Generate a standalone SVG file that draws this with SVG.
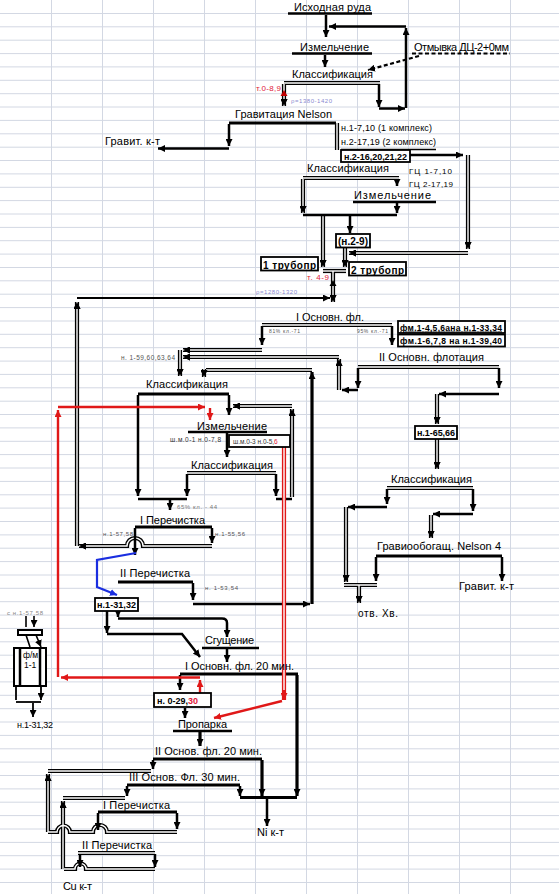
<svg xmlns="http://www.w3.org/2000/svg" xmlns:xlink="http://www.w3.org/1999/xlink" width="559" height="894" viewBox="0 0 559 894">
<style>
text{font-family:"Liberation Sans",Arial,sans-serif;fill:#000}
.t{font-size:11px}
.s9{font-size:9px}
.s8{font-size:8px}
.s6{font-size:6px;fill:#555}
.b{font-weight:bold}
.red{fill:#e0203a}
.pur{font-size:6px;fill:#8a8ad0}
.th{fill:none;stroke:#000;stroke-width:2.5}
.th3{fill:none;stroke:#000;stroke-width:3.2}
.dbo{fill:none;stroke:#000;stroke-width:4.2}
.dbi{fill:none;stroke:#fff;stroke-width:1.4}
.rd{fill:none;stroke:#e01818;stroke-width:2.4}
.rdo{fill:none;stroke:#e01818;stroke-width:4.2}
.bl{fill:none;stroke:#1a2ee0;stroke-width:2.2}
.ds{fill:none;stroke:#000;stroke-width:2.2;stroke-dasharray:4 2.5}
.box{fill:#fff;stroke:#000;stroke-width:1.8}
.grid{stroke:#d3d8e3;stroke-width:1;fill:none}
</style>
<defs>
<marker id="m" viewBox="0 0 10 10" refX="10" refY="5" markerWidth="7" markerHeight="7" markerUnits="userSpaceOnUse" orient="auto"><path d="M0,0 L10,5 L0,10 z" fill="#000"/></marker>
<marker id="mr" viewBox="0 0 10 10" refX="10" refY="5" markerWidth="7" markerHeight="7" markerUnits="userSpaceOnUse" orient="auto"><path d="M0,0 L10,5 L0,10 z" fill="#e01818"/></marker>
<marker id="mb" viewBox="0 0 10 10" refX="10" refY="5" markerWidth="7" markerHeight="7" markerUnits="userSpaceOnUse" orient="auto"><path d="M0,0 L10,5 L0,10 z" fill="#1a2ee0"/></marker>
<g id="dbl">
<path d="M284,83 H380"/>
<path d="M284,84 V106" marker-end="url(#m)"/>
<path d="M337,123 V150"/>
<path d="M468,155 V249" marker-end="url(#m)"/>
<path d="M468,253 H349" marker-end="url(#m)"/>
<path d="M303,178 H399"/>
<path d="M303,179 V213" marker-end="url(#m)"/>
<path d="M323,216 V267" marker-end="url(#m)"/>
<path d="M345,248 V267" marker-end="url(#m)"/>
<path d="M323,271 H346"/>
<path d="M333,271 V302" marker-end="url(#m)"/>
<path d="M77,546 V302" marker-end="url(#m)"/>
<path d="M262,325 H392"/>
<path d="M262,350 H183" marker-end="url(#m)"/>
<path d="M339,390 V359" marker-end="url(#m)"/>
<path d="M339,357 H183" marker-end="url(#m)"/>
<path d="M180,350 V376" marker-end="url(#m)"/>
<path d="M358,367 H499"/>
<path d="M437,394 V424" marker-end="url(#m)"/>
<path d="M437,439 V469" marker-end="url(#m)"/>
<path d="M312,370 H206"/>
<path d="M204,369 V377" marker-end="url(#m)"/>
<path d="M292,497 V409" marker-end="url(#m)"/>
<path d="M292,406 H233" marker-end="url(#m)"/>
<path d="M187,473 H276"/>
<path d="M387,488 H473"/>
<path d="M346,507 V582" marker-end="url(#m)"/>
<path d="M431,515 V538" marker-end="url(#m)"/>
<path d="M344,585 H377"/>
<path d="M359,585 V603" marker-end="url(#m)"/>
<path d="M212,546 H143 A8,8 0 0 0 127,546 H79" marker-end="url(#m)"/>
<path d="M48,832 V774" marker-end="url(#m)"/>
<path d="M48,771 H151"/>
<path d="M63,869 V801" marker-end="url(#m)"/>
<path d="M63,798 H125"/>
<path d="M177,832 H107 A7,7 0 0 0 93,832 H70 A6.5,6.5 0 0 0 57,832 H48"/>
<path d="M155,869 H86 A5.5,5.5 0 0 0 75,869 H64"/>
<path d="M78,853 H155"/>
</g>
</defs>

<g id="grid" class="grid">
<path d="M51.5,0V894M102.5,0V894M153.5,0V894M204.5,0V894M255.5,0V894M306.5,0V894M357.5,0V894M408.5,0V894M459.5,0V894M510.5,0V894"/>
<path d="M0,13.5H559M0,26.8H559M0,40.2H559M0,53.6H559M0,66.9H559M0,80.3H559M0,93.7H559M0,107H559M0,120.4H559M0,133.8H559M0,147.2H559M0,160.5H559M0,173.9H559M0,187.3H559M0,200.6H559M0,214H559M0,227.4H559M0,240.7H559M0,254.1H559M0,267.5H559M0,280.8H559M0,294.2H559M0,307.6H559M0,321H559M0,334.3H559M0,347.7H559M0,361.1H559M0,374.4H559M0,387.8H559M0,401.2H559M0,414.5H559M0,427.9H559M0,441.3H559M0,454.6H559M0,468H559M0,481.4H559M0,494.8H559M0,508.1H559M0,521.5H559M0,534.9H559M0,548.2H559M0,561.6H559M0,575H559M0,588.3H559M0,601.7H559M0,615.1H559M0,628.4H559M0,641.8H559M0,655.2H559M0,668.6H559M0,681.9H559M0,695.3H559M0,708.7H559M0,722H559M0,735.4H559M0,748.8H559M0,762.1H559M0,775.5H559M0,788.9H559M0,802.2H559M0,815.6H559M0,829H559M0,842.4H559M0,855.7H559M0,869.1H559M0,882.5H559"/>
</g>

<g id="connectors">
<use xlink:href="#dbl" class="dbo"/>
<use xlink:href="#dbl" class="dbi"/>
<g class="th">
<path d="M288,13.5 H372"/>
<path d="M292,53.5 H372"/>
<path d="M326,15 V37" marker-end="url(#m)"/>
<path d="M325,55 V67" marker-end="url(#m)"/>
<path d="M379,84 V107" marker-end="url(#m)"/>
<path d="M379,108.5 H405" marker-end="url(#m)"/>
<path d="M406,108 V28" marker-end="url(#m)"/>
<path d="M406,26.5 H329" marker-end="url(#m)"/>
<path d="M229,124 V146" marker-end="url(#m)"/>
<path d="M229,148.5 H158" marker-end="url(#m)"/>
<path d="M341,149.5 H436" style="stroke-width:1.5"/>
<path d="M410,155 H463" marker-end="url(#m)"/>
<path d="M397,179 V186" marker-end="url(#m)"/>
<path d="M353,202 H436"/>
<path d="M397,203 V213" marker-end="url(#m)"/>
<path d="M303,215 H397"/>
<path d="M350,216 V233" marker-end="url(#m)"/>
<path d="M77,298 H330" style="stroke-width:2" marker-end="url(#m)"/>
<path d="M392,326 V345" marker-end="url(#m)"/>
<path d="M262,326 V345" marker-end="url(#m)"/>
<path d="M358,368 V388" marker-end="url(#m)"/>
<path d="M358,390 H342" marker-end="url(#m)"/>
<path d="M499,368 V388" marker-end="url(#m)"/>
<path d="M499,394 H439" marker-end="url(#m)"/>
<path d="M138,395 V496" marker-end="url(#m)"/>
<path d="M229,395 V415" marker-end="url(#m)"/>
<path d="M188,432 H267"/>
<path d="M227,433 V457" marker-end="url(#m)"/>
<path d="M187,474 V496" marker-end="url(#m)"/>
<path d="M276,474 V496" marker-end="url(#m)"/>
<path d="M276,499 H292"/>
<path d="M138,499 H187"/>
<path d="M170,500 V510" marker-end="url(#m)"/>
<path d="M387,489 V504" marker-end="url(#m)"/>
<path d="M387,507 H348" marker-end="url(#m)"/>
<path d="M473,489 V511" marker-end="url(#m)"/>
<path d="M473,514 H433" marker-end="url(#m)"/>
<path d="M212,528 V543" marker-end="url(#m)"/>
<path d="M135,528 V555" marker-end="url(#m)"/>
<path d="M376,557 V581" marker-end="url(#m)"/>
<path d="M502,557 V581" marker-end="url(#m)"/>
<path d="M193,583 V600" marker-end="url(#m)"/>
<path d="M193,604 H310" marker-end="url(#m)"/>
<path d="M118,611 V617" marker-end="url(#m)"/>
<path d="M118,618.5 H222 Q227,618.5 227,623 V637" marker-end="url(#m)"/>
<path d="M107,611 V633" marker-end="url(#m)"/>
<path d="M107,634 H182 L200,657" marker-end="url(#m)"/>
<path d="M202,648 H259"/>
<path d="M227,649 V662" marker-end="url(#m)"/>
<path d="M180,675 V690" marker-end="url(#m)"/>
<path d="M185,708 V718" marker-end="url(#m)"/>
<path d="M173,731 H232"/>
<path d="M153,760 V769" marker-end="url(#m)"/>
<path d="M127,786 V796" marker-end="url(#m)"/>
<path d="M240,786 V796" marker-end="url(#m)"/>
<path d="M267,798 V826" marker-end="url(#m)"/>
<path d="M177,813 V829" marker-end="url(#m)"/>
<path d="M98,813 V830" marker-end="url(#m)"/>
<path d="M80,854 V867" marker-end="url(#m)"/>
<path d="M155,854 V867" marker-end="url(#m)"/>
</g>
<g class="th3">
<path d="M229,123 H336"/>
<path d="M312,604 V372" marker-end="url(#m)"/>
<path d="M138,394 H229"/>
<path d="M135,527 H212"/>
<path d="M376,556 H502"/>
<path d="M118,582 H193"/>
<path d="M180,674 H298"/>
<path d="M297,675 V796" marker-end="url(#m)"/>
<path d="M200,732 V746" marker-end="url(#m)"/>
<path d="M153,759 H262"/>
<path d="M262,760 V796" marker-end="url(#m)"/>
<path d="M127,785 H240"/>
<path d="M240,797.5 H297"/>
<path d="M98,812 H177"/>
</g>
<g class="ds">
<path d="M412,53.5 H510"/>
<path d="M419,56 L368,70" marker-end="url(#m)"/>
</g>
<path class="rdo" d="M284,447 V700"/>
<path d="M284,447 V700" style="fill:none;stroke:#fff;stroke-width:1.4"/>
<path d="M284,690 V700" class="rd" marker-end="url(#mr)"/>
<g class="rd">
<path d="M58,677 V410" marker-end="url(#mr)"/>
<path d="M58,407 H205" marker-end="url(#mr)"/>
<path d="M210,408 V420" marker-end="url(#mr)"/>
<path d="M200,693 V680" marker-end="url(#mr)"/>
<path d="M200,677.5 H61" marker-end="url(#mr)"/>
<path d="M282,701 L214,718" marker-end="url(#mr)"/>
</g>
<path class="bl" d="M136,553 L97,560 V587 L117,595" marker-end="url(#mb)"/>
<path d="M284,96 L280.5,90 L287.5,90 z" fill="#c00000" transform="rotate(180 284 93)"/>
<path d="M333,280 L329.5,286 L336.5,286 z" fill="#000"/>
</g>

<g id="n-ore"><text class="t" x="294" y="11" textLength="77">Исходная руда</text></g>
<g id="n-grind1"><text class="t" x="300" y="51" textLength="69">Измельчение</text></g>
<g id="n-wash"><text class="t" x="414" y="51" textLength="95">Отмывка ДЦ-2+0мм</text></g>
<g id="n-class1"><text class="t" x="292" y="78" textLength="81">Классификация</text>
<text class="s8 red" x="256" y="91" textLength="25">т.0-8,9</text>
<text class="pur" x="291" y="103" textLength="41">ρ=1380-1420</text></g>
<g id="n-nelson"><text class="t" x="235" y="118" textLength="97">Гравитация Nelson</text></g>
<g id="n-gravkt1"><text class="t" x="105" y="145" textLength="55">Гравит. к-т</text></g>
<g id="n-pumps1"><text class="s9" x="341" y="131" textLength="91">н.1-7,10 (1 комплекс)</text>
<text class="s9" x="341" y="145" textLength="95">н.2-17,19 (2 комплекс)</text></g>
<g id="n-pump2"><rect class="box" x="341" y="150" width="69" height="12"/>
<text class="s9 b" x="344" y="159.5" textLength="63">н.2-16,20,21,22</text></g>
<g id="n-class2"><text class="t" x="307" y="172" textLength="82">Классификация</text>
<text class="s8" x="409" y="174" textLength="43">ГЦ 1-7,10</text>
<text class="s8" x="409" y="187" textLength="44">ГЦ 2-17,19</text></g>
<g id="n-grind2"><text class="t" x="354" y="199" textLength="77">Измельчение</text></g>
<g id="n-pump29"><rect class="box" x="336" y="234" width="34" height="13.5"/>
<text class="b" style="font-size:10px" x="338" y="245" textLength="30">(н.2-9)</text></g>
<g id="n-pipe1"><rect class="box" x="261" y="257" width="57" height="13.5"/>
<text class="b" style="font-size:10px" x="263" y="268.5" textLength="53">1 трубопр</text></g>
<g id="n-pipe2"><rect class="box" x="349" y="262" width="57" height="13.5"/>
<text class="b" style="font-size:10px" x="351" y="273.5" textLength="53">2 трубопр</text></g>
<g id="n-t49"><text class="s8 red" x="307" y="280" textLength="22">т. 4-9</text>
<text class="pur" x="256" y="294" textLength="41">ρ=1280-1320</text></g>
<g id="n-flot1"><text class="t" x="296" y="321" textLength="68">I Основн. фл.</text>
<text class="s6" style="font-size:5px" x="269" y="333" textLength="31">81% кл.-71</text>
<text class="s6" style="font-size:5px" x="357" y="333" textLength="31">95% кл.-71</text></g>
<g id="n-fm1"><rect class="box" x="398" y="321" width="107" height="12"/>
<text class="b" style="font-size:8.5px;text-decoration:underline" x="400" y="330.5" textLength="102">фм.1-4,5,6ана н.1-33,34</text></g>
<g id="n-fm2"><rect class="box" x="398" y="334.5" width="107" height="12"/>
<text class="b" style="font-size:8.5px" x="400" y="344" textLength="102">фм.1-6,7,8 на н.1-39,40</text></g>
<g id="n-p59"><text class="s6" style="font-size:6.5px" x="121" y="360" textLength="54">н. 1-59,60,63,64</text></g>
<g id="n-flot2"><text class="t" x="379" y="361" textLength="105">II Основн. флотация</text></g>
<g id="n-class3"><text class="t" x="146" y="388" textLength="82">Классификация</text></g>
<g id="n-p65"><rect class="box" x="415" y="426" width="42" height="13"/>
<text class="s9 b" x="417" y="436" textLength="38">н.1-65,66</text></g>
<g id="n-grind3"><text class="t" x="197" y="430" textLength="70">Измельчение</text>
<text class="s6" style="font-size:6.5px;fill:#333" x="170" y="442" textLength="51">ш.м.0-1 н.0-7,8</text></g>
<g id="n-shm"><rect class="box" x="229" y="435" width="61" height="12"/>
<text style="font-size:6.5px;fill:#333" x="233" y="444">ш.м.0-3 н.0-5,<tspan class="red">6</tspan></text></g>
<g id="n-class5"><text class="t" x="191" y="469" textLength="82">Классификация</text>
<text class="s6" style="fill:#777" x="177" y="509" textLength="40">65% кл. - 44</text></g>
<g id="n-class4"><text class="t" x="391" y="483" textLength="81">Классификация</text></g>
<g id="n-clean1"><text class="t" x="140" y="524" textLength="65">I Перечистка</text>
<text class="s6" x="103" y="536" textLength="30">н.1-57,58</text>
<text class="s6" x="215" y="536" textLength="30">н.1-55,56</text></g>
<g id="n-nelson4"><text class="t" x="377" y="550" textLength="124">Гравиообогащ. Nelson 4</text></g>
<g id="n-clean2"><text class="t" x="120" y="577" textLength="70">II Перечистка</text>
<text class="s6" x="205" y="590" textLength="33">н. 1-53,54</text></g>
<g id="n-gravkt2"><text class="t" x="459" y="590" textLength="55">Гравит. к-т</text></g>
<g id="n-p31"><rect class="box" x="95" y="598" width="43" height="13"/>
<text class="s9 b" x="97" y="608" textLength="39">н.1-31,32</text></g>
<g id="n-tails"><text style="font-size:10px" x="358" y="617" textLength="40">отв. Хв.</text></g>
<g id="n-fm11">
<text class="s6" style="fill:#888" x="7" y="615" textLength="36">с н.1-57,58</text>
<path d="M26,616 V627 M34,616 V627" class="th" style="stroke-width:1.6" marker-end="url(#m)"/>
<rect x="18" y="630" width="24" height="5" fill="#fff" stroke="#000" stroke-width="2"/>
<path d="M26,635 L30,647 M36,635 L41,647" class="th" style="stroke-width:1.6" marker-end="url(#m)"/>
<rect x="14" y="648" width="32" height="38" fill="#fff" stroke="#000" stroke-width="2"/>
<path d="M20,648 V686 M40,648 V686" class="th"/>
<text style="font-size:8.5px" x="23" y="658">ф/м</text>
<text style="font-size:8.5px" x="24" y="668">1-1</text>
<path d="M16,686 V700 M41,686 V700" class="th" style="stroke-width:1.8" marker-end="url(#m)"/>
<path d="M16,702 H41" class="th" style="stroke-width:1.8"/>
<path d="M33,703 V717" class="th" style="stroke-width:1.8" marker-end="url(#m)"/>
<text class="s9" x="17" y="728" textLength="36">н.1-31,32</text></g>
<g id="n-thick"><text class="t" x="205" y="644" textLength="49">Сгущение</text></g>
<g id="n-flot20"><text class="t" x="185" y="670" textLength="109">I Основн. фл. 20 мин.</text></g>
<g id="n-p029"><rect class="box" x="154" y="693" width="57" height="14"/>
<text class="s9 b" x="157" y="703.5">н. 0-29,<tspan class="red">30</tspan></text></g>
<g id="n-steam"><text class="t" x="178" y="728" textLength="49">Пропарка</text></g>
<g id="n-flot2b"><text class="t" x="155" y="755" textLength="107">II Основ. фл. 20 мин.</text></g>
<g id="n-flot3"><text class="t" x="129" y="781" textLength="111">III Основ. Фл. 30 мин.</text></g>
<g id="n-clean1b"><text class="t" x="103" y="809" textLength="67">I Перечистка</text></g>
<g id="n-ni"><text class="t" x="257" y="836" textLength="27">Ni к-т</text></g>
<g id="n-clean2b"><text class="t" x="82" y="849" textLength="70">II Перечистка</text></g>
<g id="n-cu"><text class="t" x="63" y="890" textLength="29">Cu к-т</text></g>
</svg>
